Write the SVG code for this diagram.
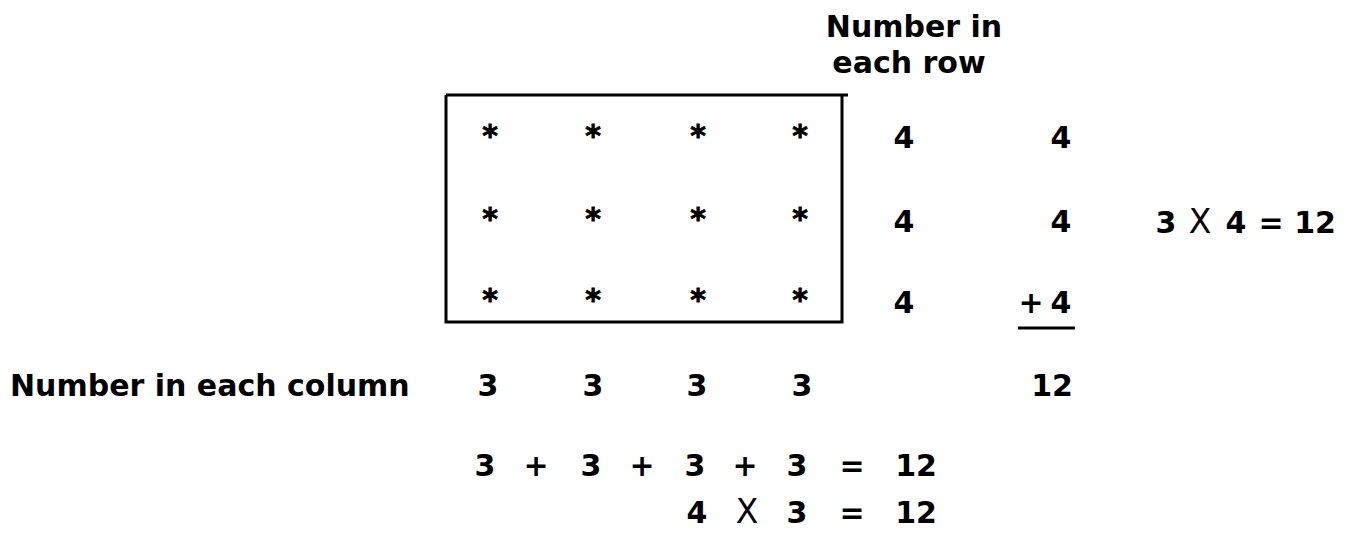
<svg xmlns="http://www.w3.org/2000/svg" width="1348" height="536" viewBox="0 0 1348 536">
<style>
text{font-family:"DejaVu Sans","Liberation Sans",sans-serif;font-weight:bold;font-size:30px;fill:#000}
.c{text-anchor:middle}
.ast{font-size:30px;text-anchor:middle;stroke:#000;stroke-width:0.8}
.x{font-weight:normal;font-size:33px}
</style>
<rect width="1348" height="536" fill="#fff"/>
<g id="row-header">
<text class="c" x="914" y="37">Number in</text>
<text class="c" x="909" y="73">each row</text>
</g>
<g id="array">
<path d="M446,95 H848 M842,95 V322 H446 V95" fill="none" stroke="#000" stroke-width="3"/>
<g id="stars">
<text class="ast" x="490" y="146">*</text><text class="ast" x="593" y="146">*</text><text class="ast" x="698" y="146">*</text><text class="ast" x="800" y="146">*</text>
<text class="ast" x="490" y="229">*</text><text class="ast" x="593" y="229">*</text><text class="ast" x="698" y="229">*</text><text class="ast" x="800" y="229">*</text>
<text class="ast" x="490" y="310">*</text><text class="ast" x="593" y="310">*</text><text class="ast" x="698" y="310">*</text><text class="ast" x="800" y="310">*</text>
</g>
</g>
<g id="row-counts">
<text class="c" x="904" y="148">4</text>
<text class="c" x="904" y="232">4</text>
<text class="c" x="904" y="313">4</text>
</g>
<g id="row-sum">
<text class="c" x="1061" y="148">4</text>
<text class="c" x="1061" y="232">4</text>
<text class="c" x="1031" y="313">+</text>
<text class="c" x="1061" y="313">4</text>
<line x1="1018" y1="328" x2="1075" y2="328" stroke="#000" stroke-width="3"/>
<text class="c" x="1052" y="396">12</text>
</g>
<g id="row-product">
<text class="c" x="1166" y="233">3</text>
<text class="c x" x="1200" y="233">X</text>
<text class="c" x="1236" y="233">4</text>
<text class="c" x="1271" y="233">=</text>
<text class="c" x="1315" y="233">12</text>
</g>
<g id="column-counts">
<text x="10" y="396">Number in each column</text>
<text class="c" x="488" y="396">3</text>
<text class="c" x="593" y="396">3</text>
<text class="c" x="697" y="396">3</text>
<text class="c" x="802" y="396">3</text>
</g>
<g id="column-sum">
<text class="c" x="485" y="476">3</text>
<text class="c" x="536" y="476">+</text>
<text class="c" x="591" y="476">3</text>
<text class="c" x="642" y="476">+</text>
<text class="c" x="695" y="476">3</text>
<text class="c" x="745" y="476">+</text>
<text class="c" x="797" y="476">3</text>
<text class="c" x="852" y="476">=</text>
<text class="c" x="916" y="476">12</text>
</g>
<g id="column-product">
<text class="c" x="697" y="523">4</text>
<text class="c x" x="747" y="523">X</text>
<text class="c" x="797" y="523">3</text>
<text class="c" x="852" y="523">=</text>
<text class="c" x="916" y="523">12</text>
</g>
</svg>
